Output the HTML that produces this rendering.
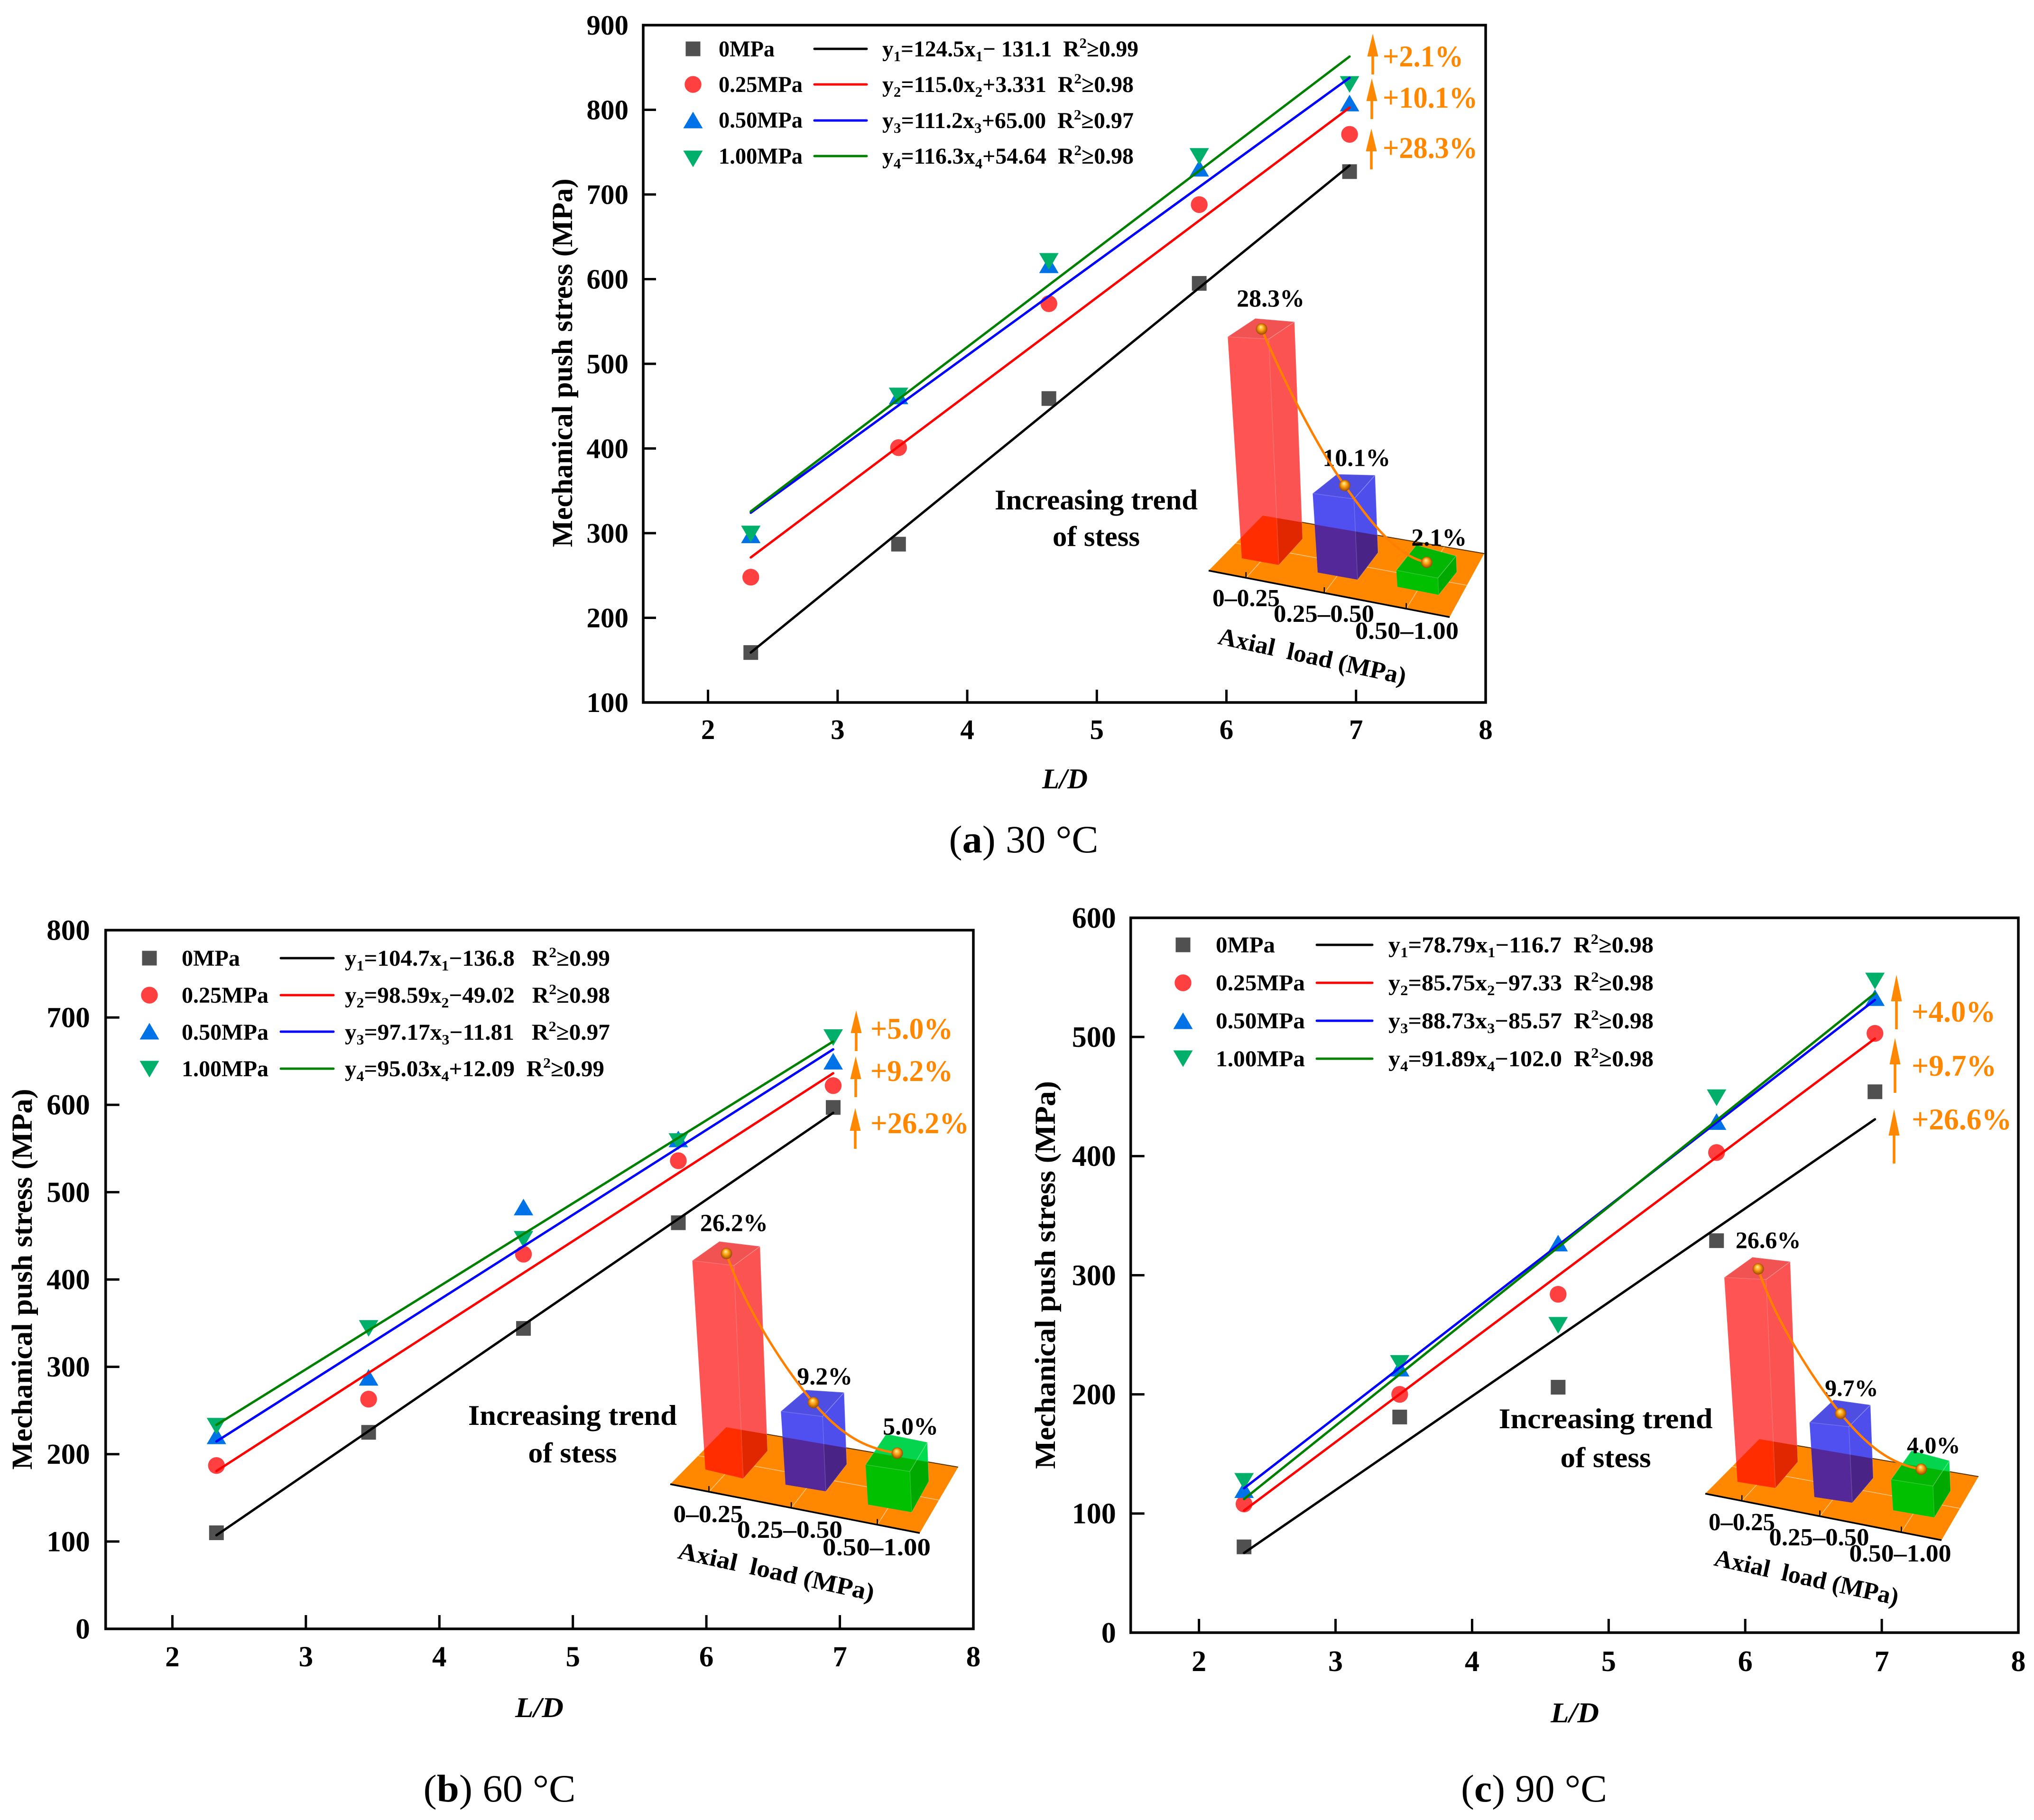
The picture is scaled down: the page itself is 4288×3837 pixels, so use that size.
<!DOCTYPE html>
<html lang="en">
<head>
<meta charset="utf-8">
<title>Mechanical push stress versus L/D at 30, 60 and 90 °C</title>
<style>
html,body{margin:0;padding:0;background:#fff;}
svg{display:block;}
text{font-family:"Liberation Serif",serif;font-weight:bold;fill:#000;white-space:pre;}
.leg{font-size:48px;}
.eq{font-size:48px;}
.gain{font-size:64px;fill:#ff8800;}
.trend{font-size:60px;}
.cat{font-size:52px;}
.ytitle{font-size:61px;}
.xtitle{font-size:60px;font-style:italic;}
.cap{font-size:82px;font-weight:normal;}
.cap tspan.b{font-weight:bold;}
</style>
</head>
<body>
<svg id="figure" xmlns="http://www.w3.org/2000/svg" width="4288" height="3837" viewBox="0 0 4288 3837">
<defs>
<radialGradient id="sphere-gradient" cx="0.5" cy="0.5" r="0.55" fx="0.42" fy="0.3">
<stop offset="0" stop-color="#fff4a0"/>
<stop offset="0.45" stop-color="#ffa010"/>
<stop offset="1" stop-color="#8a3c00"/>
</radialGradient>
</defs>

<!-- PANEL A -->
<g id="panel-a">
<text class="ytitle" transform="translate(1206,765) rotate(-90)" text-anchor="middle" textLength="777" lengthAdjust="spacingAndGlyphs">Mechanical push stress (MPa)</text>
<text class="xtitle" x="2245" y="1662" text-anchor="middle" textLength="96" lengthAdjust="spacingAndGlyphs">L/D</text>
<text class="cap" x="2158" y="1797" text-anchor="middle" textLength="315" lengthAdjust="spacingAndGlyphs">(<tspan class="b">a</tspan>) 30 °C</text>
<g>
<text class="leg" x="1515" y="119" textLength="118" lengthAdjust="spacingAndGlyphs">0MPa</text>
<text class="leg" x="1515" y="194" textLength="177" lengthAdjust="spacingAndGlyphs">0.25MPa</text>
<text class="leg" x="1515" y="269" textLength="177" lengthAdjust="spacingAndGlyphs">0.50MPa</text>
<text class="leg" x="1515" y="345" textLength="177" lengthAdjust="spacingAndGlyphs">1.00MPa</text>
<text class="eq" x="1860" y="119" textLength="540" lengthAdjust="spacingAndGlyphs">y<tspan dy="10" font-size="31">1</tspan><tspan dy="-10">=124.5x</tspan><tspan dy="10" font-size="31">1</tspan><tspan dy="-10">− 131.1  R</tspan><tspan dy="-18" font-size="31">2</tspan><tspan dy="18">≥0.99</tspan></text>
<text class="eq" x="1860" y="194" textLength="530" lengthAdjust="spacingAndGlyphs">y<tspan dy="10" font-size="31">2</tspan><tspan dy="-10">=115.0x</tspan><tspan dy="10" font-size="31">2</tspan><tspan dy="-10">+3.331  R</tspan><tspan dy="-18" font-size="31">2</tspan><tspan dy="18">≥0.98</tspan></text>
<text class="eq" x="1860" y="270" textLength="530" lengthAdjust="spacingAndGlyphs">y<tspan dy="10" font-size="31">3</tspan><tspan dy="-10">=111.2x</tspan><tspan dy="10" font-size="31">3</tspan><tspan dy="-10">+65.00  R</tspan><tspan dy="-18" font-size="31">2</tspan><tspan dy="18">≥0.97</tspan></text>
<text class="eq" x="1860" y="345" textLength="530" lengthAdjust="spacingAndGlyphs">y<tspan dy="10" font-size="31">4</tspan><tspan dy="-10">=116.3x</tspan><tspan dy="10" font-size="31">4</tspan><tspan dy="-10">+54.64  R</tspan><tspan dy="-18" font-size="31">2</tspan><tspan dy="18">≥0.98</tspan></text>
</g>
<text class="gain" x="2915" y="140" textLength="170" lengthAdjust="spacingAndGlyphs">+2.1%</text>
<text class="gain" x="2915" y="227" textLength="200" lengthAdjust="spacingAndGlyphs">+10.1%</text>
<text class="gain" x="2915" y="333" textLength="200" lengthAdjust="spacingAndGlyphs">+28.3%</text>
<text class="trend" x="2311" y="1074" text-anchor="middle" textLength="428" lengthAdjust="spacingAndGlyphs">Increasing trend</text>
<text class="trend" x="2311" y="1151" text-anchor="middle" textLength="184" lengthAdjust="spacingAndGlyphs">of stess</text>
<text class="cat" x="2627" y="1278" text-anchor="middle" textLength="142" lengthAdjust="spacingAndGlyphs">0–0.25</text>
<text class="cat" x="2791" y="1311" text-anchor="middle" textLength="212" lengthAdjust="spacingAndGlyphs">0.25–0.50</text>
<text class="cat" x="2966" y="1347" text-anchor="middle" textLength="218" lengthAdjust="spacingAndGlyphs">0.50–1.00</text>
<text class="cat" transform="translate(2763,1400) rotate(12.3)" text-anchor="middle" textLength="404" lengthAdjust="spacingAndGlyphs">Axial  load (MPa)</text>
</g>

<!-- PANEL B -->
<g id="panel-b">
<text class="ytitle" transform="translate(67,2697) rotate(-90)" text-anchor="middle" textLength="803" lengthAdjust="spacingAndGlyphs">Mechanical push stress (MPa)</text>
<text class="xtitle" x="1137" y="3620" text-anchor="middle" textLength="102" lengthAdjust="spacingAndGlyphs">L/D</text>
<text class="cap" x="1053" y="3798" text-anchor="middle" textLength="321" lengthAdjust="spacingAndGlyphs">(<tspan class="b">b</tspan>) 60 °C</text>
<g>
<text class="leg" x="383" y="2036" textLength="123" lengthAdjust="spacingAndGlyphs">0MPa</text>
<text class="leg" x="383" y="2114" textLength="183" lengthAdjust="spacingAndGlyphs">0.25MPa</text>
<text class="leg" x="383" y="2192" textLength="183" lengthAdjust="spacingAndGlyphs">0.50MPa</text>
<text class="leg" x="383" y="2269" textLength="183" lengthAdjust="spacingAndGlyphs">1.00MPa</text>
<text class="eq" x="727" y="2036" textLength="559" lengthAdjust="spacingAndGlyphs">y<tspan dy="10" font-size="31">1</tspan><tspan dy="-10">=104.7x</tspan><tspan dy="10" font-size="31">1</tspan><tspan dy="-10">−136.8   R</tspan><tspan dy="-18" font-size="31">2</tspan><tspan dy="18">≥0.99</tspan></text>
<text class="eq" x="727" y="2114" textLength="559" lengthAdjust="spacingAndGlyphs">y<tspan dy="10" font-size="31">2</tspan><tspan dy="-10">=98.59x</tspan><tspan dy="10" font-size="31">2</tspan><tspan dy="-10">−49.02   R</tspan><tspan dy="-18" font-size="31">2</tspan><tspan dy="18">≥0.98</tspan></text>
<text class="eq" x="727" y="2192" textLength="559" lengthAdjust="spacingAndGlyphs">y<tspan dy="10" font-size="31">3</tspan><tspan dy="-10">=97.17x</tspan><tspan dy="10" font-size="31">3</tspan><tspan dy="-10">−11.81   R</tspan><tspan dy="-18" font-size="31">2</tspan><tspan dy="18">≥0.97</tspan></text>
<text class="eq" x="727" y="2269" textLength="547" lengthAdjust="spacingAndGlyphs">y<tspan dy="10" font-size="31">4</tspan><tspan dy="-10">=95.03x</tspan><tspan dy="10" font-size="31">4</tspan><tspan dy="-10">+12.09  R</tspan><tspan dy="-18" font-size="31">2</tspan><tspan dy="18">≥0.99</tspan></text>
</g>
<text class="gain" x="1835" y="2190" textLength="174" lengthAdjust="spacingAndGlyphs">+5.0%</text>
<text class="gain" x="1835" y="2279" textLength="174" lengthAdjust="spacingAndGlyphs">+9.2%</text>
<text class="gain" x="1835" y="2389" textLength="208" lengthAdjust="spacingAndGlyphs">+26.2%</text>
<text class="trend" x="1207" y="3004" text-anchor="middle" textLength="440" lengthAdjust="spacingAndGlyphs">Increasing trend</text>
<text class="trend" x="1207" y="3083" text-anchor="middle" textLength="187" lengthAdjust="spacingAndGlyphs">of stess</text>
<text class="cat" x="1493" y="3209" text-anchor="middle" textLength="147" lengthAdjust="spacingAndGlyphs">0–0.25</text>
<text class="cat" x="1665" y="3242" text-anchor="middle" textLength="222" lengthAdjust="spacingAndGlyphs">0.25–0.50</text>
<text class="cat" x="1848" y="3279" text-anchor="middle" textLength="228" lengthAdjust="spacingAndGlyphs">0.50–1.00</text>
<text class="cat" transform="translate(1633,3330) rotate(12.3)" text-anchor="middle" textLength="422" lengthAdjust="spacingAndGlyphs">Axial  load (MPa)</text>
</g>

<!-- PANEL C -->
<g id="panel-c">
<text class="ytitle" transform="translate(2224,2688) rotate(-90)" text-anchor="middle" textLength="818" lengthAdjust="spacingAndGlyphs">Mechanical push stress (MPa)</text>
<text class="xtitle" x="3320" y="3631" text-anchor="middle" textLength="102" lengthAdjust="spacingAndGlyphs">L/D</text>
<text class="cap" x="3234" y="3798" text-anchor="middle" textLength="308" lengthAdjust="spacingAndGlyphs">(<tspan class="b">c</tspan>) 90 °C</text>
<g>
<text class="leg" x="2563" y="2008" textLength="125" lengthAdjust="spacingAndGlyphs">0MPa</text>
<text class="leg" x="2563" y="2088" textLength="188" lengthAdjust="spacingAndGlyphs">0.25MPa</text>
<text class="leg" x="2563" y="2168" textLength="188" lengthAdjust="spacingAndGlyphs">0.50MPa</text>
<text class="leg" x="2563" y="2248" textLength="188" lengthAdjust="spacingAndGlyphs">1.00MPa</text>
<text class="eq" x="2927" y="2008" textLength="559" lengthAdjust="spacingAndGlyphs">y<tspan dy="10" font-size="31">1</tspan><tspan dy="-10">=78.79x</tspan><tspan dy="10" font-size="31">1</tspan><tspan dy="-10">−116.7  R</tspan><tspan dy="-18" font-size="31">2</tspan><tspan dy="18">≥0.98</tspan></text>
<text class="eq" x="2927" y="2088" textLength="559" lengthAdjust="spacingAndGlyphs">y<tspan dy="10" font-size="31">2</tspan><tspan dy="-10">=85.75x</tspan><tspan dy="10" font-size="31">2</tspan><tspan dy="-10">−97.33  R</tspan><tspan dy="-18" font-size="31">2</tspan><tspan dy="18">≥0.98</tspan></text>
<text class="eq" x="2927" y="2168" textLength="559" lengthAdjust="spacingAndGlyphs">y<tspan dy="10" font-size="31">3</tspan><tspan dy="-10">=88.73x</tspan><tspan dy="10" font-size="31">3</tspan><tspan dy="-10">−85.57  R</tspan><tspan dy="-18" font-size="31">2</tspan><tspan dy="18">≥0.98</tspan></text>
<text class="eq" x="2927" y="2248" textLength="559" lengthAdjust="spacingAndGlyphs">y<tspan dy="10" font-size="31">4</tspan><tspan dy="-10">=91.89x</tspan><tspan dy="10" font-size="31">4</tspan><tspan dy="-10">−102.0  R</tspan><tspan dy="-18" font-size="31">2</tspan><tspan dy="18">≥0.98</tspan></text>
</g>
<text class="gain" x="4030" y="2154" textLength="177" lengthAdjust="spacingAndGlyphs">+4.0%</text>
<text class="gain" x="4030" y="2268" textLength="179" lengthAdjust="spacingAndGlyphs">+9.7%</text>
<text class="gain" x="4030" y="2381" textLength="211" lengthAdjust="spacingAndGlyphs">+26.6%</text>
<text class="trend" x="3385" y="3011" text-anchor="middle" textLength="451" lengthAdjust="spacingAndGlyphs">Increasing trend</text>
<text class="trend" x="3385" y="3093" text-anchor="middle" textLength="191" lengthAdjust="spacingAndGlyphs">of stess</text>
<text class="cat" x="3672" y="3226" text-anchor="middle" textLength="140" lengthAdjust="spacingAndGlyphs">0–0.25</text>
<text class="cat" x="3835" y="3258" text-anchor="middle" textLength="211" lengthAdjust="spacingAndGlyphs">0.25–0.50</text>
<text class="cat" x="4006" y="3292" text-anchor="middle" textLength="215" lengthAdjust="spacingAndGlyphs">0.50–1.00</text>
<text class="cat" transform="translate(3805,3342) rotate(12.3)" text-anchor="middle" textLength="396" lengthAdjust="spacingAndGlyphs">Axial  load (MPa)</text>
</g>
</svg>

<script>
// ---- chart data ----
const lengthDiameterRatio = [2.33, 3.47, 4.63, 5.79, 6.95];
const xTicks = [2, 3, 4, 5, 6, 7, 8];

const yTicksA = [100, 200, 300, 400, 500, 600, 700, 800, 900];
const stressA0 = [159, 287, 459, 595, 727];
const stressA25 = [248, 401, 571, 688, 771];
const stressA50 = [298, 462, 617, 731, 808];
const stressA100 = [299, 462, 621, 745, 830];
const fitSlopeA = [124.5, 115.0, 111.2, 116.3];
const fitInterceptA = [-131.1, 3.331, 65.00, 54.64];
const increaseA = [28.3, 10.1, 2.1];

const yTicksB = [0, 100, 200, 300, 400, 500, 600, 700, 800];
const stressB0 = [110, 225, 344, 465, 597];
const stressB25 = [187, 263, 429, 536, 622];
const stressB50 = [221, 288, 483, 561, 650];
const stressB100 = [232, 344, 446, 558, 677];
const fitSlopeB = [104.7, 98.59, 97.17, 95.03];
const fitInterceptB = [-136.8, -49.02, -11.81, 12.09];
const increaseB = [26.2, 9.2, 5.0];

const yTicksC = [0, 100, 200, 300, 400, 500, 600];
const stressC0 = [72, 181, 206, 329, 454];
const stressC25 = [108, 200, 284, 403, 503];
const stressC50 = [120, 222, 327, 429, 533];
const stressC100 = [127, 226, 258, 449, 547];
const fitSlopeC = [78.79, 85.75, 88.73, 91.89];
const fitInterceptC = [-116.7, -97.33, -85.57, -102.0];
const increaseC = [26.6, 9.7, 4.0];

// ---- layout (pixels) ----
const NS = 'http://www.w3.org/2000/svg';
const markerColors = ['#505050', '#ff4040', '#0072e8', '#00b06a'];
const lineColors = ['#000000', '#ff0000', '#0000ff', '#008000'];
const barAbove = ['#ff5454', '#5050f0', '#00e050'];
const barOnFloor = ['#ff2d00', '#55289a', '#00c000'];
const cornerHeightRatio = [1, 1.02, 0.98, 0.89];
const cornerLean = [-1.05, -0.75, -0.6, -0.55];

const layouts = [
  { id: 'panel-a', left: 1356, right: 3132, top: 53, bottom: 1481, yMin: 100, yMax: 900,
    yTicks: yTicksA, series: [stressA0, stressA25, stressA50, stressA100], slope: fitSlopeA, intercept: fitInterceptA,
    tickFont: 59, tickGapY: 31, xLabelBase: 1558, tickLen: 27,
    legendMarkerX: 1461, legendRows: [103, 178, 253, 335], legendLineRows: [103, 178, 254, 329], legendLineX: [1717, 1827],
    arrows: [[2894, 71, 157], [2892, 165, 251], [2891, 271, 357]], headH: 48,
    inset: { increase: increaseA, k: 16.5, bend: 0.85,
      floor: [[2548, 1203], [2662, 1087], [3129, 1167], [3056, 1301]], ticks: [0.155, 0.48, 0.82],
      bases: [
        [[2618, 1177], [2696, 1191], [2746, 1136], [2662, 1087]],
        [[2778, 1207], [2862, 1222], [2905, 1165], [2824, 1148]],
        [[2946, 1237], [3033, 1254], [3071, 1206], [2987, 1180]]
      ], labelOffsets: [[19, -47], [25, -41], [26, -35]], font: 52 } },
  { id: 'panel-b', left: 222.7, right: 2052, top: 1961, bottom: 3434, yMin: 0, yMax: 800,
    yTicks: yTicksB, series: [stressB0, stressB25, stressB50, stressB100], slope: fitSlopeB, intercept: fitInterceptB,
    tickFont: 61, tickGapY: 33, xLabelBase: 3513, tickLen: 29,
    legendMarkerX: 315, legendRows: [2020, 2098, 2174, 2254], legendLineRows: [2020, 2098, 2175, 2253], legendLineX: [592, 703],
    arrows: [[1805, 2130, 2216], [1804, 2227, 2313], [1803, 2336, 2422]], headH: 48,
    inset: { increase: increaseB, k: 16.8, bend: 0.6,
      floor: [[1413, 3129], [1531, 3009], [2020, 3093], [1939, 3232]], ticks: [0.155, 0.485, 0.83],
      bases: [
        [[1487, 3098], [1567, 3117], [1618, 3059], [1531, 3009]],
        [[1656, 3130], [1741, 3144], [1785, 3087], [1704, 3068]],
        [[1830, 3172], [1922, 3188], [1958, 3123], [1871, 3098]]
      ], labelOffsets: [[16, -47], [24, -38], [28, -39]], font: 52 } },
  { id: 'panel-c', left: 2383.7, right: 4255, top: 1935, bottom: 3442, yMin: 0, yMax: 600,
    yTicks: yTicksC, series: [stressC0, stressC25, stressC50, stressC100], slope: fitSlopeC, intercept: fitInterceptC,
    tickFont: 62, tickGapY: 31, xLabelBase: 3523, tickLen: 29,
    legendMarkerX: 2494, legendRows: [1992, 2072, 2152, 2232], legendLineRows: [1992, 2072, 2152, 2232], legendLineX: [2776, 2893],
    arrows: [[3998, 2055, 2170], [3995, 2188, 2304], [3993, 2338, 2453]], headH: 56,
    inset: { increase: increaseC, k: 16.2, bend: 0.6,
      floor: [[3595, 3149], [3709, 3034], [4171, 3113], [4093, 3247]], ticks: [0.155, 0.485, 0.83],
      bases: [
        [[3663, 3124], [3743, 3137], [3790, 3082], [3709, 3034]],
        [[3825, 3156], [3905, 3168], [3949, 3116], [3871, 3091]],
        [[3991, 3184], [4078, 3199], [4112, 3143], [4032, 3116]]
      ], labelOffsets: [[21, -44], [23, -37], [26, -34]], font: 50 } }
];

function make(parent, tag, attrs) {
  const el = document.createElementNS(NS, tag);
  for (const key in attrs) el.setAttribute(key, attrs[key]);
  parent.appendChild(el);
  return el;
}
function pts(list) { return list.map(p => p[0].toFixed(1) + ',' + p[1].toFixed(1)).join(' '); }
function lerp(a, b, t) { return [a[0] + (b[0] - a[0]) * t, a[1] + (b[1] - a[1]) * t]; }

function drawMarker(parent, type, x, y) {
  let el;
  if (type === 0) {
    el = make(parent, 'rect', { x: x - 15.5, y: y - 15.5, width: 31, height: 31, fill: markerColors[0] });
    
    
  } else if (type === 1) {
    el = make(parent, 'circle', { cx: x, cy: y, r: 17.7, fill: markerColors[1] });
    
    
  } else if (type === 2) {
    el = make(parent, 'polygon', { points: pts([[x - 20.5, y + 17.5], [x + 20.5, y + 17.5], [x, y - 17.5]]), fill: markerColors[2] });
    
    
  } else {
    el = make(parent, 'polygon', { points: pts([[x - 20.5, y - 17.5], [x + 20.5, y - 17.5], [x, y + 17.5]]), fill: markerColors[3] });
    
    
  }
}

function drawPanel(L) {
  const root = document.getElementById(L.id);
  const xs = v => L.left + (v - 1.5) * (L.right - L.left) / 6.5;
  const ys = v => L.bottom - (v - L.yMin) * (L.bottom - L.top) / (L.yMax - L.yMin);

  const frame = make(root, 'rect', { x: L.left, y: L.top, width: L.right - L.left, height: L.bottom - L.top, fill: 'none', stroke: '#000', 'stroke-width': 5.5 });
  
  

  xTicks.forEach(v => {
    const tick = make(root, 'line', { x1: xs(v), x2: xs(v), y1: L.bottom, y2: L.bottom - L.tickLen, stroke: '#000', 'stroke-width': 5 });
    
    
    const label = make(root, 'text', { x: xs(v), y: L.xLabelBase, 'text-anchor': 'middle', 'font-size': L.tickFont });
    label.textContent = String(v);
    
    
  });
  L.yTicks.forEach(v => {
    if (v !== L.yMin && v !== L.yMax) {
      const tick = make(root, 'line', { x1: L.left, x2: L.left + L.tickLen, y1: ys(v), y2: ys(v), stroke: '#000', 'stroke-width': 5 });
      
      
    }
    const label = make(root, 'text', { x: L.left - L.tickGapY, y: ys(v) + L.tickFont * 0.335, 'text-anchor': 'end', 'font-size': L.tickFont });
    label.textContent = String(v);
    
    
  });

  // markers
  L.series.forEach((values, s) => {
    values.forEach((v, i) => drawMarker(root, s, xs(lengthDiameterRatio[i]), ys(v)));
  });
  // fit lines over the markers
  const x0 = lengthDiameterRatio[0];
  const x1 = lengthDiameterRatio[lengthDiameterRatio.length - 1];
  L.slope.forEach((m, s) => {
    const fit = make(root, 'line', {
      x1: xs(x0), y1: ys(m * x0 + L.intercept[s]), x2: xs(x1), y2: ys(m * x1 + L.intercept[s]),
      stroke: lineColors[s], 'stroke-width': 5, 'stroke-linecap': 'round'
    });
    
    
  });
  // legend keys
  L.legendRows.forEach((y, s) => {
    drawMarker(root, s, L.legendMarkerX, y);
    const key = make(root, 'line', { x1: L.legendLineX[0], x2: L.legendLineX[1], y1: L.legendLineRows[s], y2: L.legendLineRows[s], stroke: lineColors[s], 'stroke-width': 5, 'stroke-linecap': 'round' });
    
    
  });
  // gain arrows
  L.arrows.forEach(a => {
    const hw = 11.5, sw = 2.8;
    const arrow = make(root, 'polygon', {
      points: pts([[a[0], a[1]], [a[0] + hw, a[1] + L.headH], [a[0] + sw, a[1] + L.headH], [a[0] + sw, a[2]], [a[0] - sw, a[2]], [a[0] - sw, a[1] + L.headH], [a[0] - hw, a[1] + L.headH]]),
      fill: '#ff8800'
    });
    
    
  });
  drawInset(root, L);
}

function drawInset(root, L) {
  const I = L.inset;
  const g = make(root, 'g', {});
  
  
  const [fl, bl, br, fr] = I.floor;

  const floor = make(g, 'polygon', { points: pts(I.floor), fill: '#ff8800' });
  
  

  const backEdge = make(g, 'line', { x1: bl[0], y1: bl[1], x2: br[0], y2: br[1], stroke: '#553300', 'stroke-width': 2 });
  
  

  I.ticks.forEach(t => {
    const a = lerp(fl, fr, t), b = lerp(bl, br, t);
    const grid = make(g, 'line', { x1: a[0], y1: a[1], x2: b[0], y2: b[1], stroke: 'rgba(255,255,255,0.55)', 'stroke-width': 1.5 });
    
    
  });
  const m1 = lerp(fl, bl, 0.5), m2 = lerp(fr, br, 0.5);
  const midGrid = make(g, 'line', { x1: m1[0], y1: m1[1], x2: m2[0], y2: m2[1], stroke: 'rgba(255,255,255,0.55)', 'stroke-width': 1.5 });
  
  

  const clipId = L.id + '-floor-clip';
  const clip = make(g, 'clipPath', { id: clipId });
  make(clip, 'polygon', { points: pts(I.floor) });

  const spheres = [];
  I.increase.forEach((pct, b) => {
    const base = I.bases[b];
    const top = base.map((c, j) => [c[0] + cornerLean[j] * pct, c[1] - I.k * pct * cornerHeightRatio[j]]);
    const outline = [base[0], base[1], base[2], top[2], top[3], top[0]];
    const bar = make(g, 'polygon', { points: pts(outline), fill: barAbove[b] });
    
    
    const barFloor = make(g, 'polygon', { points: pts(outline), fill: barOnFloor[b], 'clip-path': 'url(#' + clipId + ')' });
    
    
    const topFace = make(g, 'polygon', { points: pts(top), fill: 'rgba(60,60,60,0.07)', stroke: 'rgba(255,255,255,0.2)', 'stroke-width': 1.5 });
    
    
    const side = make(g, 'polygon', { points: pts([base[1], base[2], top[2], top[1]]), fill: 'rgba(0,0,0,0.015)', stroke: 'rgba(255,255,255,0.18)', 'stroke-width': 1.5 });
    
    
    const sideFloor = make(g, 'polygon', { points: pts([base[1], base[2], top[2], top[1]]), fill: 'rgba(0,0,0,0.1)', 'clip-path': 'url(#' + clipId + ')' });
    
    
    const c = top.reduce((acc, p) => [acc[0] + p[0] / 4, acc[1] + p[1] / 4], [0, 0]);
    spheres.push(c);
    const label = make(g, 'text', { x: c[0] + I.labelOffsets[b][0], y: c[1] + I.labelOffsets[b][1], 'text-anchor': 'middle', 'font-size': I.font });
    label.textContent = pct.toFixed(1) + '%';
    
    
  });

  // smooth trend curve through the bar tops
  const [p0, p1, p2] = spheres;
  const t0 = [(p1[0] - p0[0]) * I.bend, (p1[1] - p0[1]) * 1.05];
  const t1 = [(p2[0] - p0[0]) * 0.5, (p2[1] - p0[1]) * 0.5];
  const t2 = [(p2[0] - p1[0]) * 1.1, (p2[1] - p1[1]) * 0.25];
  const f = n => n.toFixed(1);
  const d = 'M' + f(p0[0]) + ' ' + f(p0[1]) +
    ' C' + f(p0[0] + t0[0] / 3) + ' ' + f(p0[1] + t0[1] / 3) + ' ' + f(p1[0] - t1[0] / 3) + ' ' + f(p1[1] - t1[1] / 3) + ' ' + f(p1[0]) + ' ' + f(p1[1]) +
    ' C' + f(p1[0] + t1[0] / 3) + ' ' + f(p1[1] + t1[1] / 3) + ' ' + f(p2[0] - t2[0] / 3) + ' ' + f(p2[1] - t2[1] / 3) + ' ' + f(p2[0]) + ' ' + f(p2[1]);
  const curve = make(g, 'path', { d: d, fill: 'none', stroke: '#ff8000', 'stroke-width': 5 });
  
  
  spheres.forEach(c => {
    const ball = make(g, 'circle', { cx: c[0], cy: c[1], r: 12, fill: 'url(#sphere-gradient)' });
    
    
  });

  const front = make(g, 'line', { x1: fl[0], y1: fl[1], x2: fr[0], y2: fr[1], stroke: '#000', 'stroke-width': 3.5 });
  
  
  I.ticks.forEach(t => {
    const a = lerp(fl, fr, t);
    const tick = make(g, 'line', { x1: a[0], y1: a[1], x2: a[0], y2: a[1] - 12, stroke: '#000', 'stroke-width': 2.5 });
    
    
  });
}

layouts.forEach(drawPanel);
</script>
</body>
</html>
